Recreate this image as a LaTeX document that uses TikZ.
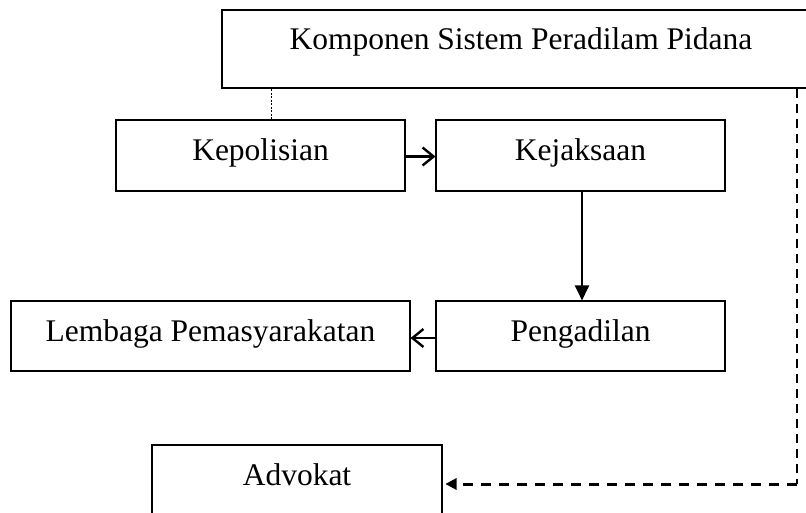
\documentclass[tikz,border=0pt]{standalone}
\usepackage{fontspec}
\setmainfont{Liberation Serif}
\usetikzlibrary{arrows.meta}
\begin{document}
\begin{tikzpicture}[x=1pt,y=-1pt,
  box/.style={draw=black, line width=1.1pt, inner sep=0pt, font=\fontsize{31.5}{36}\selectfont,
    text height=22pt, text depth=12pt},
  topbox/.style={box, line width=2.5pt, text height=13pt, text depth=11pt},
  openarrow/.style={line width=2.2pt, -{Straight Barb[length=11pt,width=18pt,line width=2.4pt]}},
  solidarrow/.style={line width=2.2pt, -{Triangle[length=15pt,width=14pt]}},
  dotline/.style={line width=0.8pt, dash pattern=on 2pt off 1.5pt},
  dashv/.style={line width=1.8pt, dash pattern=on 9pt off 6pt},
  dashh/.style={line width=3pt, dash pattern=on 10pt off 8pt},
]
\useasboundingbox (0,0) rectangle (806,513);
\clip (0,0) rectangle (806,513);
\node[topbox, minimum width=598pt, minimum height=78pt] (top) at (521,49) {Komponen Sistem Peradilam Pidana};
\node[box, minimum width=289pt, minimum height=71pt] (kep) at (260.5,155.5) {Kepolisian};
\node[box, minimum width=289pt, minimum height=71pt] (kej) at (580.5,155.5) {Kejaksaan};
\node[box, minimum width=289pt, minimum height=70pt] (pen) at (580.5,336) {Pengadilan};
\node[box, minimum width=399pt, minimum height=70pt] (lem) at (210.5,336) {Lembaga Pemasyarakatan};
\node[box, minimum width=290pt, minimum height=70pt] (adv) at (297,480) {Advokat};
\coordinate (corner) at (797,484);
\draw[dotline] ([xshift=10.5pt]kep.north) -- ([xshift=10.5pt]kep.north |- top.south);
\draw[openarrow] ([yshift=-1pt]kep.east) -- ([yshift=-1pt]kej.west);
\draw[solidarrow] ([xshift=1.5pt]kej.south) -- ([xshift=1.5pt]pen.north);
\draw[openarrow] ([yshift=-2pt]pen.west) -- ([yshift=-2pt]lem.west -| lem.east);
\draw[dashv] (corner |- top.south) -- (corner);
\draw[dashh, -{Triangle[length=11pt,width=12pt,line width=0pt]}, shorten >=3pt] (corner) -- (corner -| adv.east);
\end{tikzpicture}
\end{document}
